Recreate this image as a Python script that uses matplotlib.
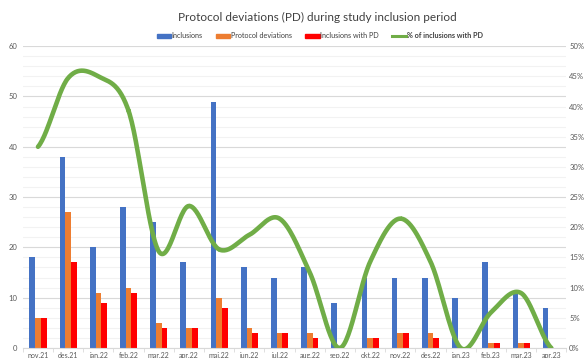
import numpy as np
import matplotlib
matplotlib.use("Agg")
import matplotlib.pyplot as plt
from matplotlib.lines import Line2D
from matplotlib.patches import Patch

months = ["nov.21", "des.21", "jan.22", "feb.22", "mar.22", "apr.22", "mai.22",
          "jun.22", "jul.22", "aug.22", "sep.22", "okt.22", "nov.22", "des.22",
          "jan.23", "feb.23", "mar.23", "apr.23"]
inclusions = [18, 38, 20, 28, 25, 17, 49, 16, 14, 16, 9, 14, 14, 14, 10, 17, 11, 8]
deviations = [6, 27, 11, 12, 5, 4, 10, 4, 3, 3, 0, 2, 3, 3, 0, 1, 1, 0]
incl_pd = [6, 17, 9, 11, 4, 4, 8, 3, 3, 2, 0, 2, 3, 2, 0, 1, 1, 0]
pct = [100 * p / n for p, n in zip(incl_pd, inclusions)]

plt.rcParams['font.family'] = ['Lato', 'DejaVu Sans']


def smooth(xs, ys, n=30):
    # catmull-rom, like excel's smoothed line
    xs = np.asarray(xs, float)
    ys = np.asarray(ys, float)
    px = np.concatenate([[2 * xs[0] - xs[1]], xs, [2 * xs[-1] - xs[-2]]])
    py = np.concatenate([[ys[0]], ys, [ys[-1]]])
    outx, outy = [], []
    t = np.linspace(0, 1, n)
    for i in range(1, len(px) - 2):
        for arr, out in ((px, outx), (py, outy)):
            p0, p1, p2, p3 = arr[i - 1], arr[i], arr[i + 1], arr[i + 2]
            out.extend(0.5 * ((2 * p1) + (-p0 + p2) * t
                              + (2 * p0 - 5 * p1 + 4 * p2 - p3) * t ** 2
                              + (-p0 + 3 * p1 - 3 * p2 + p3) * t ** 3))
    return np.array(outx), np.array(outy)


fig = plt.figure(figsize=(5.87, 3.58), dpi=100)
ax = fig.add_axes([0.039, 0.028, 0.926, 0.843])
ax2 = ax.twinx()

x = np.arange(len(months))
w = 0.19
ax.bar(x - w, inclusions, w, color='#4472C4', zorder=2)
ax.bar(x, deviations, w, color='#ED7D31', zorder=2)
ax.bar(x + w, incl_pd, w, color='#FF0000', zorder=2)

sx, sy = smooth(x, pct)
ax2.plot(sx, sy, color='#70AD47', lw=3.3, solid_capstyle='round', zorder=3)

ax.set_xlim(-0.5, len(months) - 0.5)
ax.set_ylim(0, 60)
ax2.set_ylim(0, 50)
ax.set_yticks(range(0, 61, 10))
ax.set_yticks(range(0, 61, 2), minor=True)
ax2.set_yticks(range(0, 51, 5))
ax2.set_yticklabels([f"{v}%" for v in range(0, 51, 5)])
ax.grid(axis='y', which='major', color='#d9d9d9', lw=0.8, zorder=0)
ax.grid(axis='y', which='minor', color='#f2f2f2', lw=0.8, zorder=0)
ax.set_axisbelow(True)

ax.set_xticks(x)
ax.set_xticklabels(months)
ax.set_xticks(np.arange(-0.5, len(months), 1), minor=True)
ax.tick_params(axis='x', which='major', length=0, labelsize=5, colors='#595959', pad=3)
ax.tick_params(axis='x', which='minor', length=3, color='#d9d9d9')
ax.tick_params(axis='y', which='both', length=0, labelsize=5.5, colors='#595959', pad=4)
ax2.tick_params(axis='y', length=0, labelsize=5.5, colors='#595959', pad=2)

for a in (ax, ax2):
    for s in a.spines.values():
        s.set_visible(False)
ax.spines['bottom'].set_visible(True)
ax.spines['bottom'].set_color('#d9d9d9')

fig.text(0.54, 0.952, "Protocol deviations (PD) during study inclusion period",
         ha='center', va='center', fontsize=8.5, color='#404040')

handles = [Patch(color='#4472C4'), Patch(color='#ED7D31'), Patch(color='#FF0000'),
           Line2D([], [], color='#70AD47', lw=2.2)]
labels = ["Inclusions", "Protocol deviations", "Inclusions with PD",
          "% of inclusions with PD"]
leg = fig.legend(handles, labels, loc='center', bbox_to_anchor=(0.545, 0.9), ncol=4,
                 frameon=False, fontsize=5.2, handlelength=2.0, handleheight=0.4,
                 columnspacing=1.8, handletextpad=0.1)
for t in leg.get_texts():
    t.set_color('#404040')
leg.get_texts()[3].set_fontweight('bold')

fig.savefig("out.png", dpi=100)
